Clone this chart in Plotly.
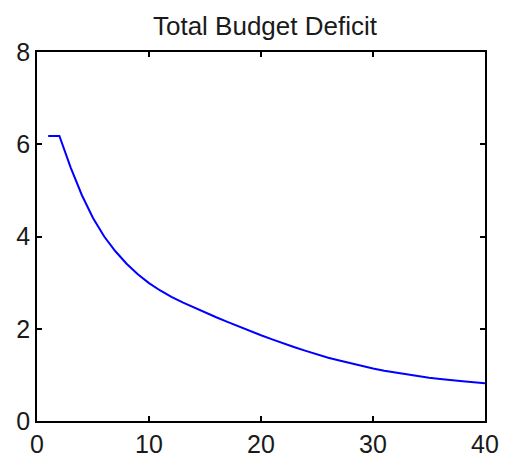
import plotly.graph_objects as go

years = list(range(1, 41))
deficit = [6.18, 6.18, 5.50, 4.90, 4.40, 4.00, 3.68, 3.41, 3.18, 2.99,
           2.83, 2.69, 2.57, 2.46, 2.35, 2.25, 2.15, 2.05, 1.95, 1.86,
           1.77, 1.68, 1.60, 1.52, 1.44, 1.37, 1.31, 1.25, 1.19, 1.14,
           1.09, 1.05, 1.01, 0.97, 0.94, 0.91, 0.88, 0.86, 0.84, 0.82]
x_ticks = [0, 10, 20, 30, 40]
y_ticks = [0, 2, 4, 6, 8]

fig = go.Figure()
fig.add_trace(go.Scatter(x=years, y=deficit, mode="lines",
                         line=dict(color="#0000ff", width=2),
                         showlegend=False))

tick_font = dict(family="Liberation Sans, Arial, sans-serif", size=25, color="#1a1a1a")
title_font = dict(family="Liberation Sans, Arial, sans-serif", size=26, color="#1a1a1a")
axis_common = dict(showgrid=False, zeroline=False, showline=True, linecolor="black",
                   linewidth=1.5, mirror="ticks", ticks="inside", ticklen=5,
                   tickcolor="black", tickwidth=1.5, tickfont=tick_font, automargin=False)

fig.update_layout(
    width=499, height=453,
    margin=dict(l=29, r=22, t=44, b=40),
    paper_bgcolor="white", plot_bgcolor="white",
    title=dict(text="Total Budget Deficit", x=0.515, xanchor="center",
               y=0.961, yanchor="middle", font=title_font),
    xaxis=dict(range=[0, 40], tickvals=x_ticks, **axis_common),
    yaxis=dict(range=[0, 8], tickvals=y_ticks, **axis_common),
)
fig.write_html("out.html")
